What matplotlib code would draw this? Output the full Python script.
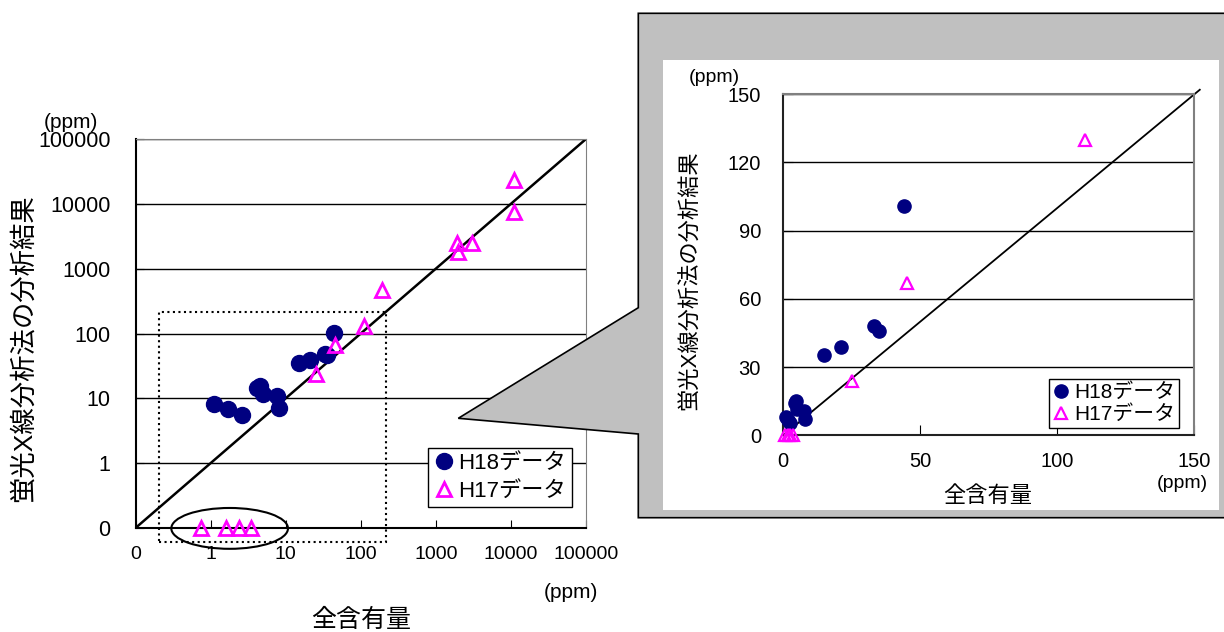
import numpy as np
import matplotlib
matplotlib.use('Agg')
import matplotlib.pyplot as plt
from matplotlib.patches import Polygon, Rectangle, Ellipse
from matplotlib.ticker import FixedLocator, NullLocator

plt.rcParams['font.family'] = ['Liberation Sans', 'Noto Sans CJK JP']

# data (ppm)
h18_total = [1.1, 1.7, 2.6, 4.1, 4.5, 5.0, 7.6, 8.1, 15.0, 21.0, 33.0, 35.0, 44.0]
h18_xrf = [8.2, 6.9, 5.5, 14.3, 15.3, 11.5, 10.8, 7.0, 35.5, 38.7, 48.0, 46.0, 101.0]
h17_total = [0.75, 1.6, 2.4, 3.5, 25.0, 45.0, 110.0, 190.0, 1900.0, 2000.0, 3000.0, 11000.0, 11000.0]
h17_xrf = [0, 0, 0, 0, 24.0, 67.0, 130.0, 470.0, 2450.0, 1800.0, 2450.0, 23000.0, 7600.0]

log_ticks = [0.1, 1, 10, 100, 1000, 10000, 100000]
log_labels = ['0', '1', '10', '100', '1000', '10000', '100000']
lin_ticks = [0, 30, 60, 90, 120, 150]
lin_xticks = [0, 50, 100, 150]

navy = '#000080'
mag = '#ff00ff'
W, H = 1224, 632


def fx(px):
    return px / W


def fy(py):
    return 1 - py / H


fig = plt.figure(figsize=(W / 100, H / 100), dpi=100)

# ---- left: log-log chart
ax = fig.add_axes([fx(135.5), fy(528), (586 - 135.5) / W, (528 - 139) / H])
ax.set_zorder(0)
ax.set_xscale('log')
ax.set_yscale('log')
ax.set_xlim(0.1, 100000)
ax.set_ylim(0.1, 100000)

ax.plot([0.1, 100000], [0.1, 100000], color='black', lw=1.8, zorder=2)
h17_log = np.where(np.array(h17_xrf) == 0, 0.1, h17_xrf)
p18, = ax.plot(h18_total, h18_xrf, 'o', color=navy, ms=11.5, ls='none', zorder=4,
               clip_on=False, label='H18データ')
p17, = ax.plot(h17_total, h17_log, '^', mfc='none', mec=mag, mew=2, ms=10, ls='none',
               zorder=4, clip_on=False, label='H17データ')

ax.xaxis.set_major_locator(FixedLocator(log_ticks))
ax.yaxis.set_major_locator(FixedLocator(log_ticks))
ax.xaxis.set_minor_locator(NullLocator())
ax.yaxis.set_minor_locator(NullLocator())
ax.set_xticklabels(log_labels, fontsize=14)
ax.set_yticklabels(log_labels, fontsize=15.5)
ax.tick_params(axis='x', direction='in', length=6, pad=13)
ax.tick_params(axis='y', direction='in', length=6, pad=18)
ax.yaxis.grid(True, color='black', lw=1)
ax.set_axisbelow(True)
for s in ['top', 'right']:
    ax.spines[s].set_color('#808080')
for s in ['left', 'bottom']:
    ax.spines[s].set_color('black')
    ax.spines[s].set_linewidth(1.5)

ax.add_patch(Rectangle((0.205, 0.06), 220 - 0.205, 218 - 0.06, fill=False, ls=':',
                       lw=1.5, ec='black', clip_on=False, zorder=3))
ax.add_patch(Ellipse((0.209, -0.001), 0.259, 0.105, transform=ax.transAxes, fill=False,
                     ec='black', lw=1.5, clip_on=False, zorder=3))

leg = ax.legend(handles=[p18, p17], loc='lower right', bbox_to_anchor=(0.968, 0.053),
                borderaxespad=0, fancybox=False, framealpha=1, edgecolor='black',
                fontsize=16, handlelength=0.9, handletextpad=0.2, borderpad=0.25,
                labelspacing=0.3)
leg.get_frame().set_linewidth(1)

fig.text(fx(71), fy(123), '(ppm)', fontsize=15, ha='center', va='center')
fig.text(fx(23), fy(348), '蛍光X線分析法の分析結果', fontsize=19, rotation=90,
         ha='center', va='center')
fig.text(fx(571), fy(592), '(ppm)', fontsize=15, ha='center', va='center')
fig.text(fx(360.7), fy(620), '全含有量', fontsize=18, ha='center', va='center')

# ---- callout frame
outer = [(638.3, 13.3), (1240, 13.3), (1240, 517.7), (638.3, 517.7), (638.3, 434),
         (458.3, 418.3), (638.3, 307.7)]
fig.patches.append(Polygon([(fx(x), fy(y)) for x, y in outer], closed=True,
                           transform=fig.transFigure, fc='#c0c0c0', ec='black', lw=1.2,
                           zorder=1))
fig.patches.append(Rectangle((fx(663.3), fy(510)), fx(1219) - fx(663.3), fy(60) - fy(510),
                             transform=fig.transFigure, fc='white', ec='none', zorder=1.5))

# ---- right: linear zoom
ax2 = fig.add_axes([fx(783.3), fy(435.3), (1194.3 - 783.3) / W, (435.3 - 94.3) / H])
ax2.set_zorder(3)
ax2.set_xlim(0, 150)
ax2.set_ylim(0, 150)
ax2.plot([0, 152], [0, 152], color='black', lw=1.3, clip_on=False, zorder=2)
q18, = ax2.plot(h18_total, h18_xrf, 'o', color=navy, ms=9.5, ls='none', zorder=4,
                clip_on=False, label='H18データ')
q17, = ax2.plot(h17_total, h17_xrf, '^', mfc='none', mec=mag, mew=1.6, ms=8.5, ls='none',
                zorder=4, clip_on=False, label='H17データ')
ax2.set_xticks(lin_xticks)
ax2.set_yticks(lin_ticks)
ax2.set_xticklabels([str(v) for v in lin_xticks], fontsize=14.5)
ax2.set_yticklabels([str(v) for v in lin_ticks], fontsize=14.5)
ax2.tick_params(axis='x', direction='in', length=7, pad=12)
ax2.tick_params(axis='y', direction='in', length=7, pad=16)
ax2.yaxis.grid(True, color='black', lw=1)
ax2.set_axisbelow(True)
for s in ['top', 'right']:
    ax2.spines[s].set_color('#808080')
    ax2.spines[s].set_linewidth(1.5)
for s in ['left', 'bottom']:
    ax2.spines[s].set_color('#222222')
    ax2.spines[s].set_linewidth(1.5)

leg2 = ax2.legend(handles=[q18, q17], loc='lower right', bbox_to_anchor=(0.963, 0.021),
                  borderaxespad=0, fancybox=False, framealpha=1, edgecolor='black',
                  fontsize=15, handlelength=0.8, handletextpad=0.2, borderpad=0.2,
                  labelspacing=0.15)
leg2.get_frame().set_linewidth(1)

fig.text(fx(714), fy(77), '(ppm)', fontsize=14, ha='center', va='center', zorder=4)
fig.text(fx(691), fy(280), '蛍光X線分析法の分析結果', fontsize=16, rotation=90,
         ha='center', va='center', zorder=4)
fig.text(fx(1182), fy(483), '(ppm)', fontsize=14, ha='center', va='center', zorder=4)
fig.text(fx(988), fy(497), '全含有量', fontsize=16, ha='center', va='center', zorder=4)

fig.savefig('out.png', dpi=100)
